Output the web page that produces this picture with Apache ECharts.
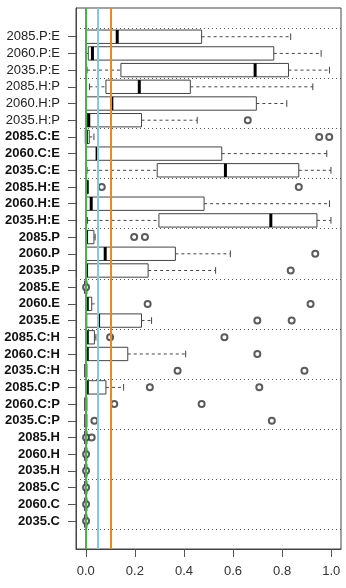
<!DOCTYPE html>
<html>
<head>
<meta charset="utf-8">
<script src="https://cdn.jsdelivr.net/npm/echarts/dist/echarts.min.js"></script>
<style>
  html, body { margin: 0; padding: 0; background: #fff; }
  #chart { width: 346px; height: 588px; }
</style>
</head>
<body>
<div id="chart"></div>
<script>
// rows listed top to bottom
var categories = ['2085.P:E', '2060.P:E', '2035.P:E', '2085.H:P', '2060.H:P', '2035.H:P',
  '2085.C:E', '2060.C:E', '2035.C:E', '2085.H:E', '2060.H:E', '2035.H:E',
  '2085.P', '2060.P', '2035.P', '2085.E', '2060.E', '2035.E',
  '2085.C:H', '2060.C:H', '2035.C:H', '2085.C:P', '2060.C:P', '2035.C:P',
  '2085.H', '2060.H', '2035.H', '2085.C', '2060.C', '2035.C'];
var boldFrom = 6; // labels from 2085.C:E down are bold

var lows    = [0, 0, 0.005, 0.015, 0, 0, 0, 0, 0.005, 0, 0, 0.007, 0, 0, 0, 0, 0, 0, 0, 0, 0, 0, 0, 0, 0, 0, 0, 0, 0, 0];
var q1s     = [0, 0.01, 0.143, 0.082, 0, 0.005, 0, 0, 0.291, 0, 0, 0.298, 0, 0, 0, 0, 0.004, 0.004, 0.004, 0.004, 0, 0.004, 0, 0, 0, 0, 0, 0, 0, 0];
var medians = [0.128, 0.027, 0.690, 0.218, 0.106, 0.012, 0.002, 0.046, 0.569, 0.003, 0.022, 0.754, 0.003, 0.079, 0.003, 0, 0.006, 0.052, 0.006, 0.006, 0, 0.006, 0, 0, 0, 0, 0, 0, 0, 0];
var q3s     = [0.472, 0.766, 0.826, 0.426, 0.695, 0.227, 0.014, 0.554, 0.868, 0.011, 0.482, 0.942, 0.033, 0.365, 0.254, 0, 0.024, 0.227, 0.035, 0.171, 0, 0.082, 0, 0, 0, 0, 0, 0, 0, 0];
var highs   = [0.835, 0.959, 0.993, 0.925, 0.819, 0.454, 0.033, 0.982, 0.999, 0.011, 0.993, 0.999, 0.038, 0.589, 0.529, 0, 0.049, 0.268, 0.041, 0.407, 0, 0.154, 0, 0, 0, 0, 0, 0, 0, 0];
var outliers = [[], [], [], [], [], [0.660],
  [0.951, 0.992], [], [], [0.065, 0.868], [], [],
  [0.197, 0.241], [0.935], [0.835], [0.001], [0.252, 0.916], [0.699, 0.839],
  [0.099, 0.565], [0.699], [0.374, 0.891], [0.261, 0.707], [0.116, 0.472], [0.035, 0.758],
  [0.001, 0.024], [0.001], [0.001], [0.001], [0.001], [0.001]];
var refLines = [0, 0.05, 0.1];
var refColors = ['#4fae4a', '#86c9d8', '#e88a1e'];
var xTicks = [0, 0.2, 0.4, 0.6, 0.8, 1.0];

var n = categories.length;
var boxData = [];
var outData = [];
var yVals = [];
for (var i = 0; i < n; i++) {
  var pos = n - i;
  yVals.push(pos);
  boxData.push([pos, lows[i], q1s[i], medians[i], q3s[i], highs[i]]);
  for (var j = 0; j < outliers[i].length; j++) {
    outData.push([outliers[i][j], pos]);
  }
}
var sepLines = [];
for (var s = 0; s <= n; s += 3) sepLines.push({yAxis: s + 0.5});

function renderBox(params, api) {
  var pos = api.value(0);
  var pLo = api.coord([api.value(1), pos]);
  var pQ1 = api.coord([api.value(2), pos]);
  var pMd = api.coord([api.value(3), pos]);
  var pQ3 = api.coord([api.value(4), pos]);
  var pHi = api.coord([api.value(5), pos]);
  var unit = api.size([0, 1])[1];
  var bw = unit * 0.4, sw = unit * 0.2, y = pMd[1];
  var dash = {stroke: '#444', lineWidth: 1, lineDash: [3, 3]};
  var solid = {stroke: '#444', lineWidth: 1};
  return {
    type: 'group',
    children: [
      {type: 'line', shape: {x1: pLo[0], y1: y, x2: pQ1[0], y2: y}, style: dash},
      {type: 'line', shape: {x1: pQ3[0], y1: y, x2: pHi[0], y2: y}, style: dash},
      {type: 'line', shape: {x1: pLo[0], y1: y - sw, x2: pLo[0], y2: y + sw}, style: solid},
      {type: 'line', shape: {x1: pHi[0], y1: y - sw, x2: pHi[0], y2: y + sw}, style: solid},
      {type: 'rect', shape: {x: pQ1[0], y: y - bw, width: pQ3[0] - pQ1[0], height: bw * 2},
        style: {fill: '#fff', stroke: '#444', lineWidth: 1}},
      {type: 'line', shape: {x1: pMd[0], y1: y - bw, x2: pMd[0], y2: y + bw},
        style: {stroke: '#000', lineWidth: 3}}
    ]
  };
}

var chart = echarts.init(document.getElementById('chart'));
var font = 'Liberation Sans, Arial, Helvetica, sans-serif';

chart.setOption({
  animation: false,
  textStyle: {fontFamily: font},
  grid: {left: 76, right: 5, top: 8, bottom: 39, show: true, borderColor: '#444', borderWidth: 1},
  xAxis: {
    type: 'value', min: -0.04, max: 1.04,
    axisLine: {show: true, onZero: false, lineStyle: {color: '#444'}}, splitLine: {show: false},
    axisTick: {show: true, length: 8, lineStyle: {color: '#555'}, customValues: xTicks},
    axisLabel: {fontSize: 13, color: '#333', margin: 16, customValues: xTicks,
      formatter: function(v) { return v.toFixed(1); }}
  },
  yAxis: {
    type: 'value', min: -0.68, max: 31.72,
    axisLine: {show: true, onZero: false, lineStyle: {color: '#444'}}, splitLine: {show: false},
    axisTick: {show: true, length: 8, lineStyle: {color: '#555'}, customValues: yVals},
    axisLabel: {
      margin: 16, customValues: yVals,
      formatter: function(v) {
        var idx = n - Math.round(v);
        if (idx < 0 || idx >= n) return '';
        return (idx >= boldFrom ? '{b|' : '{r|') + categories[idx] + '}';
      },
      rich: {
        b: {fontSize: 13, fontWeight: 'bold', color: '#111', fontFamily: font},
        r: {fontSize: 13, color: '#222', fontFamily: font}
      }
    }
  },
  series: [
    {
      type: 'custom', renderItem: renderBox, data: boxData, z: 2,
      encode: {x: [1, 2, 3, 4, 5], y: 0}
    },
    {
      type: 'scatter', data: outData, symbol: 'emptyCircle', symbolSize: 6, z: 3,
      itemStyle: {color: '#333', borderWidth: 0.8},
      markLine: {
        silent: true, symbol: 'none', label: {show: false},
        lineStyle: {type: [1, 3], color: '#555', width: 1},
        data: sepLines
      }
    },
    {
      type: 'line', data: [], z: 5,
      markLine: {
        silent: true, symbol: 'none', label: {show: false},
        data: refLines.map(function(v, k) {
          return {xAxis: v, lineStyle: {type: 'solid', color: refColors[k], width: 2}};
        })
      }
    }
  ]
});
</script>
</body>
</html>
